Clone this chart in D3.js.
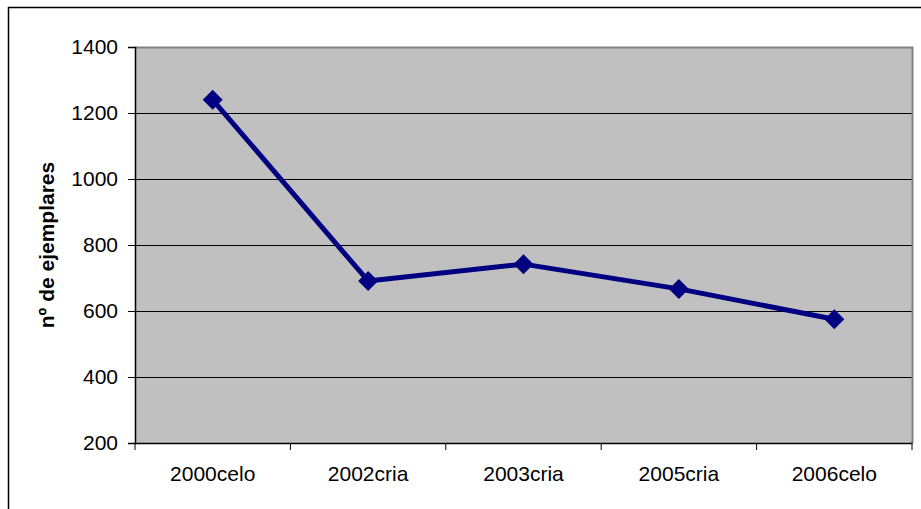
<!DOCTYPE html>
<html><head><meta charset="utf-8">
<script src="https://cdn.jsdelivr.net/npm/d3@7"></script>
<style>body{margin:0;background:#fff}svg{display:block;font-family:"Liberation Sans",Arial,sans-serif}</style>
</head><body>
<svg id="c" width="921" height="509"></svg>
<script>
const categories = ["2000celo","2002cria","2003cria","2005cria","2006celo"];
const values = [1240, 691, 742, 667, 575];
const yTicks = [200,400,600,800,1000,1200,1400];

const svg = d3.select("#c");
const L=135,R=912,T=47,B=443;
const FS=21;
// outer chart border
svg.append("rect").attr("x",8.5).attr("y",7.5).attr("width",940).attr("height",540)
  .attr("fill","#fff").attr("stroke","#000").attr("stroke-width",1.5);

const x = d3.scaleBand().domain(categories).range([L,R]).padding(0);
const y = d3.scaleLinear().domain([200,1400]).range([B,T]);

svg.append("rect").attr("x",L).attr("y",T).attr("width",R-L).attr("height",B-T).attr("fill","#c0c0c0");
// gridlines
svg.append("g").selectAll("line").data(yTicks.slice(1,-1)).join("line")
  .attr("x1",L).attr("x2",R).attr("y1",d=>Math.round(y(d))+0.5).attr("y2",d=>Math.round(y(d))+0.5)
  .attr("stroke","#000").attr("stroke-width",1);
// plot border top/right gray
svg.append("path").attr("d",`M${L},${T+0.5}H${R+0.5}V${B}`).attr("fill","none").attr("stroke","#808080").attr("stroke-width",2);

// y axis
const ya = svg.append("g").attr("transform",`translate(${L},0)`)
  .call(d3.axisLeft(y).tickValues(yTicks).tickSize(7).tickPadding(10).tickFormat(d3.format("d")));
ya.select(".domain").attr("stroke","#000").attr("stroke-width",1.5);
ya.selectAll("line").attr("stroke","#000");
ya.selectAll("text").attr("font-size",FS).attr("font-family","Liberation Sans, Arial, sans-serif").attr("fill","#000");

// x axis
const xa = svg.append("g").attr("transform",`translate(0,${B})`)
  .call(d3.axisBottom(x).tickSize(0).tickPadding(22));
xa.select(".domain").attr("stroke","#000").attr("stroke-width",1.5);
xa.selectAll("text").attr("font-size",FS).attr("font-family","Liberation Sans, Arial, sans-serif").attr("fill","#000")
  .attr("dy",null).attr("y",38);
svg.append("g").selectAll("line").data(d3.range(categories.length+1)).join("line")
  .attr("x1",i=>L+i*x.bandwidth()).attr("x2",i=>L+i*x.bandwidth())
  .attr("y1",B).attr("y2",B+7).attr("stroke","#000");

// line
const cx = d=>x(d)+x.bandwidth()/2;
svg.append("path").datum(categories)
  .attr("d",d3.line().x(c=>cx(c)).y((c,i)=>y(values[i])))
  .attr("fill","none").attr("stroke","#000080").attr("stroke-width",5).attr("stroke-linejoin","round");
svg.append("g").selectAll("path").data(categories).join("path")
  .attr("transform",(c,i)=>`translate(${cx(c)},${y(values[i])})`)
  .attr("d","M0,-10L10,0L0,10L-10,0Z").attr("fill","#000080");

// y label
svg.append("text").attr("transform",`translate(54,${(T+B)/2}) rotate(-90)`)
  .attr("text-anchor","middle").attr("font-size",FS).attr("font-weight","bold").text("nº de ejemplares");
</script>
</body></html>
